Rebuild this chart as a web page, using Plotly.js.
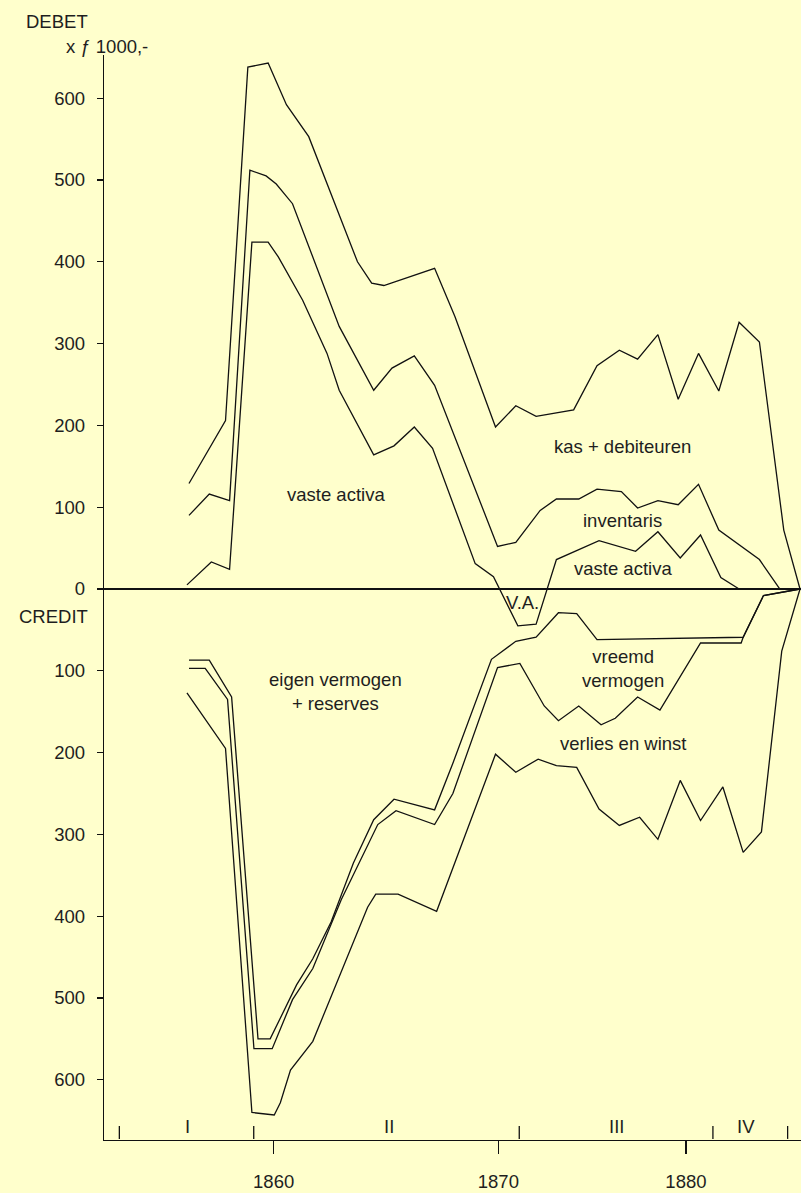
<!DOCTYPE html>
<html>
<head>
<meta charset="utf-8">
<script src="https://cdn.plot.ly/plotly-3.0.1.min.js"></script>
<style>html,body{margin:0;padding:0;background:#FFFFCC;}</style>
</head>
<body>
<div id="chart" style="width:801px;height:1193px;"></div>
<script>
// ---- DEBET (upper half), values x f 1000 ----
const kasYears = [1855.9, 1857.7, 1858.8, 1859.8, 1860.7, 1861.8, 1864.2, 1864.9, 1865.5, 1866.8, 1868.0, 1869.0, 1871, 1872, 1873, 1874.85, 1876, 1877.1, 1878, 1879, 1880, 1881, 1882, 1883, 1884, 1885.2, 1886];
const kasVals  = [129, 206, 638, 643, 592, 553, 400, 374, 371, 382, 392, 333, 198, 224, 211, 219, 273, 292, 281, 311, 232, 288, 242, 326, 302, 72, 0];

const invYears = [1855.9, 1856.9, 1857.9, 1858.9, 1859.7, 1860.2, 1861.0, 1862.8, 1863.3, 1865.0, 1865.9, 1867.0, 1868.0, 1871.1, 1872, 1873.2, 1874, 1875.1, 1876, 1877.2, 1878, 1879, 1880, 1881, 1882, 1884, 1885];
const invVals  = [90, 116, 108, 512, 505, 495, 471, 353, 321, 243, 270, 285, 249, 52, 57, 96, 110, 110, 122, 119, 99, 108, 103, 128, 72, 36, 0];

const vaYears = [1855.8, 1857.0, 1857.9, 1859.0, 1859.8, 1860.3, 1861.5, 1862.7, 1863.3, 1865.0, 1866.0, 1867.0, 1867.9, 1870.0, 1870.9, 1872.1, 1873.0, 1874, 1876.1, 1877.9, 1879, 1880.1, 1881.1, 1882.1, 1883];
const vaVals  = [5, 33, 24, 424, 424, 406, 353, 288, 243, 164, 175, 198, 172, 31, 15, -45, -43, 36, 59, 46, 70, 38, 66, 14, 0];

// ---- CREDIT (lower half, drawn negative) ----
const evYears = [1855.9, 1856.9, 1858.0, 1859.3, 1859.9, 1861.2, 1862.0, 1862.9, 1864.0, 1865.0, 1866.0, 1868.0, 1868.9, 1870.8, 1872, 1873, 1874.1, 1875.0, 1876, 1883.2, 1884.2, 1886];
const evVals  = [-87, -87, -132, -550, -550, -484, -452, -407, -335, -282, -257, -270, -213, -86, -64, -59, -29, -30, -62, -59, -8, 0];

const vvYears = [1855.9, 1856.7, 1857.8, 1859.1, 1860.0, 1861.0, 1862.0, 1862.6, 1863.4, 1865.2, 1866.1, 1868.0, 1868.9, 1871.1, 1872.2, 1873.4, 1874.1, 1875.1, 1876.2, 1876.9, 1878.0, 1879.1, 1881.1, 1883.1, 1883.2, 1884.2, 1886];
const vvVals  = [-97, -97, -135, -562, -562, -502, -464, -427, -380, -288, -271, -288, -250, -96, -91, -143, -161, -143, -166, -158, -132, -148, -66, -66, -59, -8, 0];

const vwYears = [1855.8, 1857.7, 1859.0, 1860.1, 1860.4, 1860.9, 1862.0, 1864.7, 1865.1, 1866.2, 1868.1, 1871, 1872, 1873.1, 1874, 1875, 1876.1, 1877.1, 1878.1, 1879, 1880.1, 1881.1, 1882.2, 1883.2, 1884.1, 1885.1, 1886];
const vwVals  = [-127, -195, -640, -643, -628, -588, -553, -389, -373, -373, -394, -202, -224, -208, -216, -218, -269, -289, -279, -306, -234, -283, -242, -322, -297, -76, 0];

// ---- axes ----
const yTickVals = [-600, -500, -400, -300, -200, -100, 0, 100, 200, 300, 400, 500, 600];
const yTickText = ['600', '500', '400', '300', '200', '100', '0', '100', '200', '300', '400', '500', '600'];
const yearTickPos  = [1860.07, 1871.14, 1880.38];
const yearTickText = ['1860', '1870', '1880'];

const periodTickPos = [1852.47, 1859.09, 1872.17, 1881.71, 1885.39];
const periodLabels  = ['I', 'II', 'III', 'IV'];
const periodLabelPos = [1855.82, 1865.74, 1876.97, 1883.34];

// ---- area labels ----
const areaTexts = ['vaste activa', 'kas + debiteuren', 'inventaris', 'vaste activa', 'V.A.', 'eigen vermogen<br>+ reserves', 'vreemd<br>vermogen', 'verlies en winst'];
const areaX     = [1863.13, 1877.26, 1877.27, 1877.26, 1872.34, 1863.13, 1877.26, 1877.26];
const areaY     = [116, 174, 83.4, 24.7, -17.1, -125.2, -97.6, -188.6];

const FONT = 'Liberation Sans, Arial, Helvetica, sans-serif';
const INK = '#111111';
const TXT = '#1e1e1e';
const FS = 18.5;

const series = [
  [kasYears, kasVals], [invYears, invVals], [vaYears, vaVals],
  [evYears, evVals], [vvYears, vvVals], [vwYears, vwVals]
];
const traces = series.map(s => ({
  x: s[0], y: s[1], type: 'scatter', mode: 'lines',
  line: {color: INK, width: 1.3}, hoverinfo: 'skip', showlegend: false
}));

const annotations = [];
areaTexts.forEach((t, i) => annotations.push({
  x: areaX[i], y: areaY[i], xref: 'x', yref: 'y', text: t, showarrow: false,
  font: {family: FONT, size: FS, color: TXT}, xanchor: 'center', yanchor: 'middle', align: 'center'
}));
periodLabels.forEach((t, i) => annotations.push({
  x: periodLabelPos[i], y: 0.012, xref: 'x', yref: 'paper', text: t, showarrow: false,
  font: {family: FONT, size: FS, color: TXT}, xanchor: 'center', yanchor: 'middle'
}));
annotations.push({x: -0.0195, y: 1.0307, xref: 'paper', yref: 'paper', text: 'DEBET', showarrow: false,
  font: {family: FONT, size: FS, color: TXT}, xanchor: 'right', yanchor: 'middle'});
annotations.push({x: -0.057, y: 1.0078, xref: 'paper', yref: 'paper', text: 'x \u0192 1000,-', showarrow: false,
  font: {family: FONT, size: FS, color: TXT}, xanchor: 'left', yanchor: 'middle'});
annotations.push({x: -0.0201, y: -34.2, xref: 'paper', yref: 'y', text: 'CREDIT', showarrow: false,
  font: {family: FONT, size: FS, color: TXT}, xanchor: 'right', yanchor: 'middle'});

const shapes = periodTickPos.map(p => ({
  type: 'line', xref: 'x', yref: 'paper', x0: p, x1: p, y0: 0.001, y1: 0.0129,
  line: {color: INK, width: 1.3}
}));

const layout = {
  width: 801, height: 1193,
  margin: {l: 104, r: 0, t: 55, b: 53, pad: 0},
  paper_bgcolor: '#FFFFCC', plot_bgcolor: '#FFFFCC',
  showlegend: false,
  font: {family: FONT, size: FS, color: TXT},
  xaxis: {
    range: [1851.714, 1886.049], showgrid: false, zeroline: false,
    showline: true, linecolor: INK, linewidth: 1.3,
    ticks: 'outside', ticklen: 13, tickwidth: 1.3, tickcolor: INK,
    tickvals: yearTickPos, ticktext: yearTickText,
    tickfont: {family: FONT, size: FS, color: TXT}, ticklabelstandoff: 11
  },
  yaxis: {
    range: [-673.6, 652.8], showgrid: false,
    zeroline: true, zerolinecolor: INK, zerolinewidth: 1.3,
    showline: true, linecolor: INK, linewidth: 1.3,
    ticks: 'outside', ticklen: 6, tickwidth: 1.3, tickcolor: INK,
    tickvals: yTickVals, ticktext: yTickText,
    tickfont: {family: FONT, size: FS, color: TXT}, ticklabelstandoff: 8
  },
  annotations: annotations,
  shapes: shapes
};

Plotly.newPlot('chart', traces, layout, {displayModeBar: false, staticPlot: true});
</script>
</body>
</html>
